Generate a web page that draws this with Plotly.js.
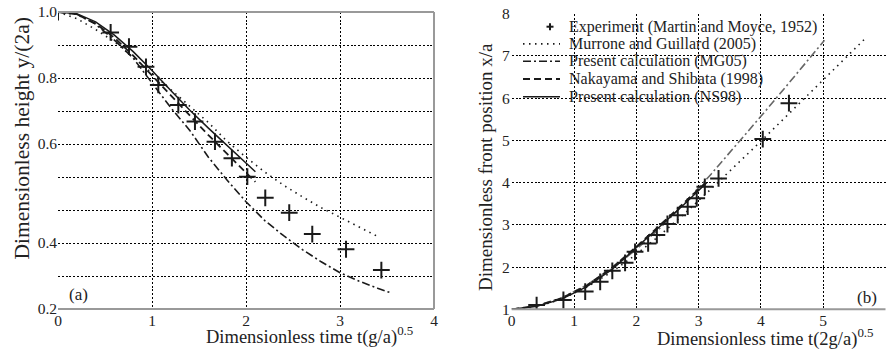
<!DOCTYPE html>
<html><head><meta charset="utf-8">
<script src="https://cdn.plot.ly/plotly-3.0.1.min.js"></script>
<style>html,body{margin:0;padding:0;background:#fff}</style>
</head><body><div id="chart" style="width:886px;height:349px"></div>
<script>
// ---------- Panel (a): height vs time (y values in the panel's uniform grid units) ----------
const expA_t = [0, 0.56, 0.755, 0.936, 1.067, 1.28, 1.457, 1.67, 1.85, 2.014, 2.205, 2.46, 2.705, 3.064, 3.44];
const expA_h = [1.0, 0.938, 0.895, 0.834, 0.779, 0.718, 0.668, 0.607, 0.557, 0.501, 0.437, 0.392, 0.327, 0.281, 0.218];

const mgA_t  = [0, 0.2, 0.4, 0.6, 0.8, 1.0, 1.2, 1.4, 1.6, 1.8, 2.0, 2.2, 2.4, 2.6, 2.8, 3.0, 3.2, 3.4];
const mgA_h  = [1.0, 0.98, 0.947, 0.91, 0.863, 0.815, 0.765, 0.715, 0.665, 0.608, 0.56, 0.515, 0.475, 0.44, 0.407, 0.378, 0.35, 0.32];

const pmgA_t = [0, 0.2, 0.4, 0.6, 0.8, 1.0, 1.2, 1.4, 1.6, 1.8, 2.0, 2.2, 2.4, 2.6, 2.8, 3.0, 3.2, 3.4, 3.55];
const pmgA_h = [1.0, 0.993, 0.963, 0.915, 0.86, 0.785, 0.71, 0.642, 0.56, 0.49, 0.425, 0.368, 0.322, 0.28, 0.243, 0.21, 0.185, 0.163, 0.148];

const nsA_t  = [0, 0.2, 0.4, 0.6, 0.8, 1.0, 1.2, 1.4, 1.6, 1.8, 2.0, 2.1];
const nsA_h  = [1.0, 0.993, 0.965, 0.922, 0.868, 0.808, 0.745, 0.685, 0.627, 0.57, 0.513, 0.485];

const pnsA_t = [0, 0.2, 0.4, 0.6, 0.8, 1.0, 1.2, 1.4, 1.6, 1.8, 2.0, 2.1];
const pnsA_h = [1.0, 0.995, 0.97, 0.93, 0.88, 0.823, 0.762, 0.703, 0.648, 0.594, 0.541, 0.516];

const yA_gridVals = [0.1, 0.2, 0.3, 0.4, 0.5, 0.6, 0.7, 0.8, 0.9, 1.0];
const yA_tickText = ['0.2', '', '0.4', '', '', '0.6', '', '0.8', '', '1.0'];

// ---------- Panel (b): front position vs time ----------
const expB_t = [0.40, 0.83, 1.18, 1.42, 1.615, 1.82, 1.98, 2.19, 2.33, 2.50, 2.665, 2.825, 2.97, 3.10, 3.32, 4.03, 4.45];
const expB_x = [1.10, 1.22, 1.42, 1.65, 1.91, 2.10, 2.36, 2.56, 2.76, 3.02, 3.23, 3.43, 3.63, 3.90, 4.10, 5.03, 5.88];

const mgB_t  = [0, 0.4, 0.8, 1.2, 1.6, 2.0, 2.4, 2.8, 3.2, 3.6, 4.0, 4.4, 4.8, 5.2, 5.7];
const mgB_x  = [1.0, 1.06, 1.24, 1.52, 1.88, 2.3, 2.78, 3.3, 3.85, 4.41, 4.98, 5.56, 6.14, 6.72, 7.45];

const pmgB_t = [0, 0.4, 0.8, 1.2, 1.6, 2.0, 2.4, 2.8, 3.2, 3.6, 4.0, 4.4, 4.8, 5.02];
const pmgB_x = [1.0, 1.08, 1.27, 1.57, 1.95, 2.42, 2.95, 3.55, 4.2, 4.88, 5.57, 6.27, 6.98, 7.37];

const nsB_t  = [0, 0.4, 0.8, 1.2, 1.6, 2.0, 2.4, 2.8, 3.1];
const nsB_x  = [1.0, 1.08, 1.26, 1.56, 1.97, 2.48, 3.02, 3.56, 3.98];

const pnsB_t = [0, 0.4, 0.8, 1.2, 1.6, 2.0, 2.4, 2.8, 3.13];
const pnsB_x = [1.0, 1.07, 1.24, 1.53, 1.93, 2.45, 2.99, 3.53, 4.0];

const names = ['Experiment (Martin and Moyce, 1952)', 'Murrone and Guillard (2005)',
  'Present calculation (MG05)', 'Nakayama and Shibata (1998)', 'Present calculation (NS98)'];

const serif = 'Liberation Serif';
const INK = '#1a1a1a';
const DOT = '1.5px,4.5px';
const DASHDOT = '8px,3px,2px,3px';
const DASH = '7px,4px';
const mk = {symbol: 'cross-thin', size: 12, line: {width: 2, color: INK}, color: INK};

const traces = [
  {x: expA_t, y: expA_h, mode: 'markers', marker: mk, name: names[0], xaxis: 'x', yaxis: 'y'},
  {x: mgA_t, y: mgA_h, mode: 'lines', line: {color: INK, width: 1.6, dash: DOT}, name: names[1], xaxis: 'x', yaxis: 'y'},
  {x: pmgA_t, y: pmgA_h, mode: 'lines', line: {color: INK, width: 1.6, dash: DASHDOT}, name: names[2], xaxis: 'x', yaxis: 'y'},
  {x: nsA_t, y: nsA_h, mode: 'lines', line: {color: INK, width: 1.8, dash: DASH}, name: names[3], xaxis: 'x', yaxis: 'y'},
  {x: pnsA_t, y: pnsA_h, mode: 'lines', line: {color: INK, width: 1.5}, name: names[4], xaxis: 'x', yaxis: 'y'},

  {x: mgB_t, y: mgB_x, mode: 'lines', line: {color: INK, width: 1.6, dash: DOT}, name: names[1], xaxis: 'x2', yaxis: 'y2'},
  {x: pmgB_t, y: pmgB_x, mode: 'lines', line: {color: '#666', width: 1.6, dash: DASHDOT}, name: names[2], xaxis: 'x2', yaxis: 'y2'},
  {x: nsB_t, y: nsB_x, mode: 'lines', line: {color: INK, width: 1.8, dash: DASH}, name: names[3], xaxis: 'x2', yaxis: 'y2'},
  {x: pnsB_t, y: pnsB_x, mode: 'lines', line: {color: INK, width: 1.5}, name: names[4], xaxis: 'x2', yaxis: 'y2'},
  {x: expB_t, y: expB_x, mode: 'markers', marker: mk, name: names[0], xaxis: 'x2', yaxis: 'y2'}
];

const W = 886, H = 349;
const px = v => v / W, py = v => (H - v) / H;

const grid = {showgrid: true, gridcolor: '#000', gridwidth: 1, griddash: '2px,1.8px', zeroline: false,
  showline: false, ticks: '', tickfont: {family: serif, size: 15.5, color: '#222'}};

// hand-drawn legend (Matlab-style compact rows)
const legRows = [26.7, 43.9, 61.3, 78.9, 96.7];
const legSample = [{dash: DOT, w: 1.6}, {dash: DASHDOT, w: 1.6}, {dash: DASH, w: 2}, {dash: 'solid', w: 1.5}];
const shapes = [
  {type: 'rect', xref: 'paper', yref: 'paper', x0: px(512), x1: px(765), y0: py(107), y1: py(14.5), fillcolor: '#fff', line: {width: 0}, layer: 'between'},
  {type: 'line', xref: 'x domain', yref: 'y domain', x0: 0, x1: 1, y0: 0, y1: 0, line: {color: '#999', width: 2}},
  {type: 'line', xref: 'x domain', yref: 'y domain', x0: 0, x1: 1, y0: 1, y1: 1, line: {color: '#999', width: 2}},
  {type: 'line', xref: 'x domain', yref: 'y domain', x0: 1, x1: 1, y0: 0, y1: 1, line: {color: '#999', width: 2}},
  {type: 'line', xref: 'x2 domain', yref: 'y2 domain', x0: 0, x1: 1, y0: 0, y1: 0, line: {color: '#999', width: 2}},
  {type: 'line', xref: 'paper', yref: 'paper', x0: px(546.5), x1: px(553.5), y0: py(legRows[0]), y1: py(legRows[0]), line: {color: INK, width: 2}},
  {type: 'line', xref: 'paper', yref: 'paper', x0: px(550), x1: px(550), y0: py(legRows[0] - 3.5), y1: py(legRows[0] + 3.5), line: {color: INK, width: 2}}
];
legSample.forEach((s, i) => shapes.push({type: 'line', xref: 'paper', yref: 'paper', x0: px(523), x1: px(560),
  y0: py(legRows[i + 1]), y1: py(legRows[i + 1]), line: {color: INK, width: s.w, dash: s.dash}}));

const tfont = {family: serif, size: 18.5, color: '#222'};
const annotations = [
  {xref: 'paper', yref: 'paper', x: px(309), y: py(335), xanchor: 'center', yanchor: 'middle', showarrow: false,
    text: 'Dimensionless time t(g/a)<sup>0.5</sup>', font: tfont},
  {xref: 'paper', yref: 'paper', x: px(765), y: py(337.5), xanchor: 'center', yanchor: 'middle', showarrow: false,
    text: 'Dimensionless time t(2g/a)<sup>0.5</sup>', font: tfont},
  {xref: 'paper', yref: 'paper', x: px(21), y: py(138.5), xanchor: 'center', yanchor: 'middle', showarrow: false, textangle: -90,
    text: 'Dimensionless height y/(2a)', font: {family: serif, size: 21.5, color: '#222'}},
  {xref: 'paper', yref: 'paper', x: px(485), y: py(167), xanchor: 'center', yanchor: 'middle', showarrow: false, textangle: -90,
    text: 'Dimensionless front position x/a', font: {family: serif, size: 19, color: '#222'}},
  {xref: 'paper', yref: 'paper', x: px(78), y: py(294), xanchor: 'center', yanchor: 'middle', showarrow: false,
    text: '(a)', font: {family: serif, size: 17, color: '#222'}},
  {xref: 'paper', yref: 'paper', x: px(867), y: py(297), xanchor: 'center', yanchor: 'middle', showarrow: false,
    text: '(b)', font: {family: serif, size: 17, color: '#222'}}
];
names.forEach((n, i) => annotations.push({xref: 'paper', yref: 'paper', x: px(567), y: py(legRows[i]), xanchor: 'left', yanchor: 'middle',
  showarrow: false, text: n, font: {family: serif, size: 16, color: '#222'}}));

const layout = {
  width: W, height: H, margin: {l: 0, r: 0, t: 0, b: 0},
  paper_bgcolor: '#fff', plot_bgcolor: '#fff',
  font: {family: serif, color: '#222'},
  showlegend: false,
  xaxis: Object.assign({}, grid, {domain: [px(58), px(434)], range: [0, 4], tickvals: [0, 1, 2, 3, 4], anchor: 'y', ticklabelstandoff: 0}),
  yaxis: Object.assign({}, grid, {domain: [py(309), py(12)], range: [0.1, 1.0], tickvals: yA_gridVals, ticktext: yA_tickText, anchor: 'x'}),
  xaxis2: Object.assign({}, grid, {domain: [px(511.7), px(885.5)], range: [0, 6], tickvals: [0, 1, 2, 3, 4, 5, 6], anchor: 'y2', ticklabelstandoff: 0}),
  yaxis2: Object.assign({}, grid, {domain: [py(309.3), py(13.7)], range: [1, 8], tickvals: [1, 2, 3, 4, 5, 6, 7, 8], anchor: 'x2', ticklabelstandoff: 1}),
  shapes: shapes,
  annotations: annotations
};

Plotly.newPlot('chart', traces, layout, {displayModeBar: false, staticPlot: true});
</script></body></html>
